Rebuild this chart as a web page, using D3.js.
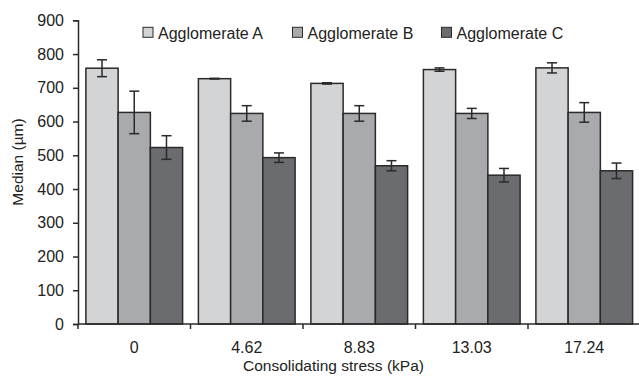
<!DOCTYPE html>
<html><head><meta charset="utf-8">
<script src="https://cdn.jsdelivr.net/npm/d3@7"></script>
<style>body{margin:0;background:#fff}svg{display:block}text{font-family:"Liberation Sans",Arial,sans-serif;fill:#222}</style>
</head><body>
<script>
const categories = ["0","4.62","8.83","13.03","17.24"];
const seriesNames = ["Agglomerate A","Agglomerate B","Agglomerate C"];
const valuesA = [758,727,713,754,759];
const valuesB = [627,624,624,624,627];
const valuesC = [523,493,469,441,454];
const errA = [25,1,2,5,15];
const errB = [63,23,23,15,29];
const errC = [35,14,15,20,23];
const yTicks = [0,100,200,300,400,500,600,700,800,900];
const colors = ["#d3d4d6","#a9aaad","#6b6c70"];

const W=639,H=378;
const svg=d3.select("body").append("svg").attr("width",W).attr("height",H);
const x0=78, x1=640.5, y0=324, y1=20.3;
const x=d3.scaleBand().domain(categories).range([x0,x1]).paddingInner(0).paddingOuter(0);
const xs=d3.scaleBand().domain(seriesNames).range([0,x.bandwidth()]).paddingOuter(0.245).paddingInner(0);
const y=d3.scaleLinear().domain([0,900]).range([y0,y1]);

const vals=[valuesA,valuesB,valuesC], errs=[errA,errB,errC];
const data=[];
seriesNames.forEach((s,i)=>categories.forEach((c,j)=>data.push({s,c,v:vals[i][j],e:errs[i][j],col:colors[i]})));

svg.append("g").selectAll("rect").data(data).join("rect")
 .attr("x",d=>x(d.c)+xs(d.s)).attr("y",d=>y(d.v))
 .attr("width",xs.bandwidth()).attr("height",d=>y(0)-y(d.v))
 .attr("fill",d=>d.col).attr("stroke","#2a2a2a").attr("stroke-width",1.5);

const eg=svg.append("g").attr("stroke","#2a2a2a").attr("stroke-width",1.5);
data.forEach(d=>{
  const cx=x(d.c)+xs(d.s)+xs.bandwidth()/2;
  eg.append("line").attr("x1",cx).attr("x2",cx).attr("y1",y(d.v+d.e)).attr("y2",y(d.v-d.e));
  [d.v+d.e,d.v-d.e].forEach(v=>eg.append("line").attr("x1",cx-5).attr("x2",cx+5).attr("y1",y(v)).attr("y2",y(v)));
});

// y axis
const ya=svg.append("g").attr("transform",`translate(${x0},0)`)
 .call(d3.axisLeft(y).tickValues(yTicks).tickSize(5).tickPadding(9));
ya.select(".domain").attr("stroke","#2a2a2a").attr("stroke-width",1.5);
ya.selectAll(".tick line").attr("stroke","#2a2a2a").attr("stroke-width",1.5);
ya.selectAll("text").style("font-size","16px").style("font-family","'Liberation Sans',Arial,sans-serif").attr("fill","#222");

// x axis
const xa=svg.append("g").attr("transform",`translate(0,${y0})`);
xa.append("line").attr("x1",x0).attr("x2",W).attr("stroke","#2a2a2a").attr("stroke-width",1.5);
const bounds=categories.map(c=>x(c));
xa.selectAll(".tk").data(bounds).join("line").attr("x1",d=>d).attr("x2",d=>d).attr("y1",0).attr("y2",5)
 .attr("stroke","#2a2a2a").attr("stroke-width",1.5);
xa.selectAll(".lb").data(categories).join("text").attr("x",c=>x(c)+x.bandwidth()/2).attr("y",29)
 .attr("text-anchor","middle").style("font-size","16px").text(c=>c);

svg.append("text").attr("x",333.5).attr("y",371).attr("text-anchor","middle").style("font-size","15.5px").text("Consolidating stress (kPa)");
svg.append("text").attr("transform","translate(23,162) rotate(-90)").attr("text-anchor","middle").style("font-size","15.5px").text("Median (µm)");

// legend
const legX=[143,292.5,441.5];
const lg=svg.append("g");
seriesNames.forEach((s,i)=>{
  lg.append("rect").attr("x",legX[i]).attr("y",27.3).attr("width",10).attr("height",10)
    .attr("fill",colors[i]).attr("stroke","#2a2a2a").attr("stroke-width",1);
  lg.append("text").attr("x",legX[i]+15).attr("y",38.5).style("font-size","16px").text(s);
});
</script>
</body></html>
